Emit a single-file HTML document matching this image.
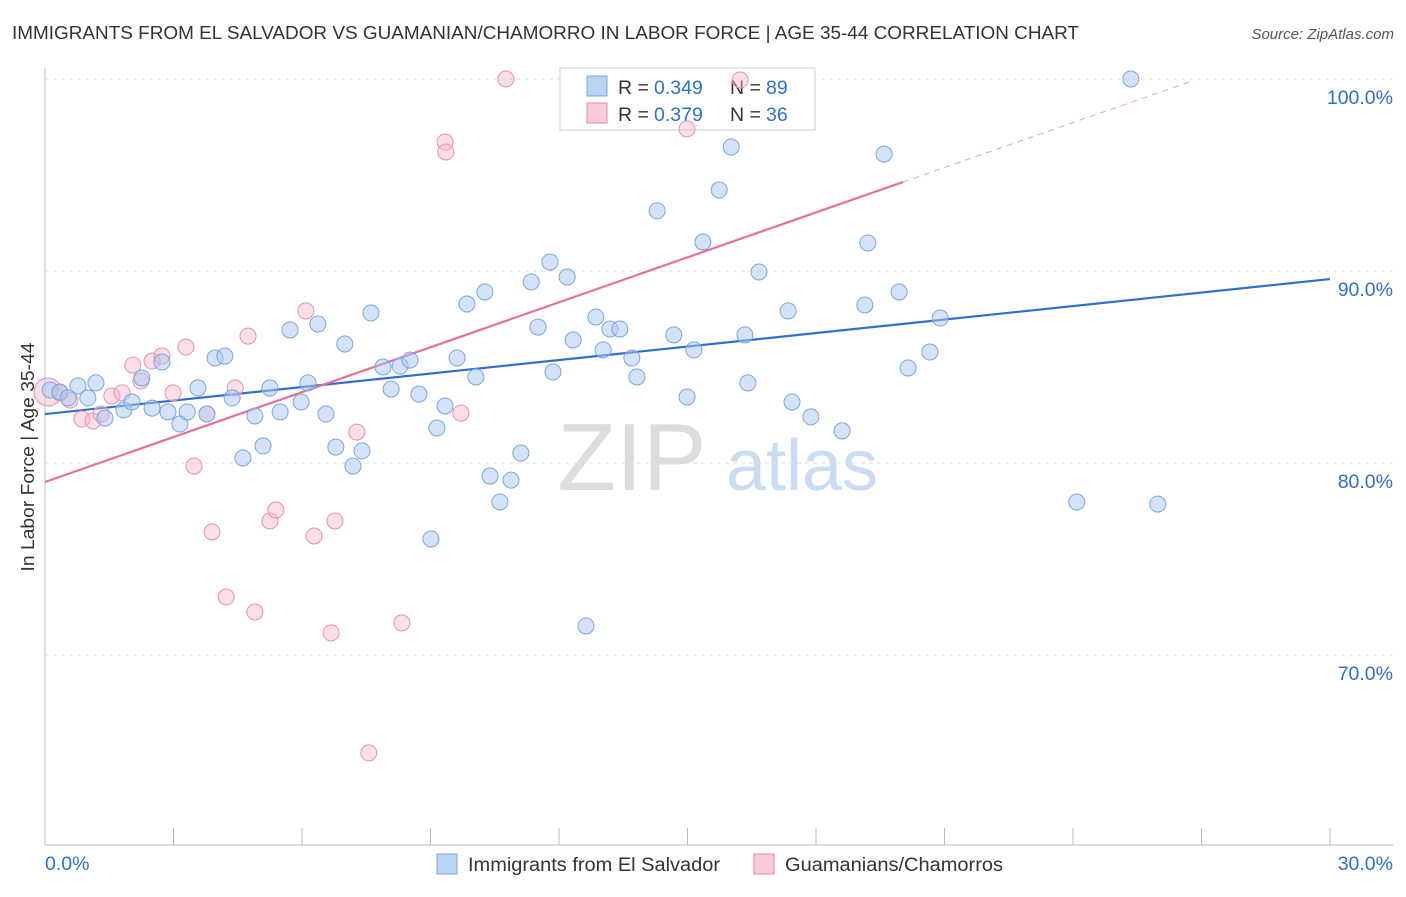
<!DOCTYPE html>
<html><head><meta charset="utf-8"><style>
body{margin:0;background:#fff;font-family:"Liberation Sans",sans-serif;}
svg text{font-family:"Liberation Sans",sans-serif;}
</style></head><body>
<svg id="chart" width="1406" height="892" xmlns="http://www.w3.org/2000/svg">
<text x="12" y="39" font-size="18.5" fill="#333" textLength="1067" lengthAdjust="spacingAndGlyphs">IMMIGRANTS FROM EL SALVADOR VS GUAMANIAN/CHAMORRO IN LABOR FORCE | AGE 35-44 CORRELATION CHART</text>
<text x="1394" y="39" font-size="15" fill="#555" text-anchor="end" font-style="italic">Source: ZipAtlas.com</text>
<g>
<text x="632" y="490" font-size="96" fill="#ddd" text-anchor="middle" font-family="Liberation Serif">ZIP</text>
<text x="802" y="490" font-size="72" fill="#c9dcf2" text-anchor="middle">atlas</text>
</g>
<g id="grid"></g>
<g id="axes"></g>
<g>
<rect x="560" y="68" width="255" height="62" fill="#fff" stroke="#ccc"/>
<rect x="587" y="76" width="20" height="20" fill="#bcd4f4" stroke="#7aa6e0"/>
<rect x="587" y="103" width="20" height="20" fill="#f9cad9" stroke="#e88aa8"/>
<text x="618" y="94" font-size="19.5" fill="#333">R =</text>
<text x="654" y="94" font-size="19.5" fill="#2f6fd0">0.349</text>
<text x="730" y="94" font-size="19.5" fill="#333">N =</text>
<text x="766" y="94" font-size="19.5" fill="#2f6fd0">89</text>
<text x="618" y="121" font-size="19.5" fill="#333">R =</text>
<text x="654" y="121" font-size="19.5" fill="#2f6fd0">0.379</text>
<text x="730" y="121" font-size="19.5" fill="#333">N =</text>
<text x="766" y="121" font-size="19.5" fill="#2f6fd0">36</text>
</g>
<g id="lines"></g>
<g id="pts"></g>
<text transform="translate(34,457) rotate(-90)" font-size="18" fill="#333" text-anchor="middle" textLength="229" lengthAdjust="spacingAndGlyphs">In Labor Force | Age 35-44</text>
<g>
<rect x="437" y="854" width="20" height="20" fill="#bcd4f4" stroke="#7aa6e0"/>
<text x="468" y="871" font-size="19" fill="#333" textLength="252" lengthAdjust="spacingAndGlyphs">Immigrants from El Salvador</text>
<rect x="754" y="854" width="20" height="20" fill="#f9cad9" stroke="#e88aa8"/>
<text x="785" y="871" font-size="19" fill="#333" textLength="218" lengthAdjust="spacingAndGlyphs">Guamanians/Chamorros</text>
</g>
</svg>
<script>
const yTicks=[100,90,80,70];
const yTickLabels=["100.0%","90.0%","80.0%","70.0%"];
const xTicks=[0,3,6,9,12,15,18,21,24,27,30];
const blueX=[0.12,0.35,0.54,0.77,1.00,1.19,1.40,1.84,2.03,2.26,2.50,2.73,2.87,3.15,3.32,3.57,3.78,3.97,4.20,4.37,4.62,4.90,5.09,5.25,5.49,5.72,5.98,6.14,6.37,6.56,6.79,7.00,7.19,7.40,7.61,7.89,8.08,8.29,8.52,8.73,9.01,9.15,9.34,9.62,9.85,10.06,10.27,10.39,10.62,10.88,11.11,11.35,11.51,11.79,11.86,12.19,12.33,12.63,12.86,13.03,13.19,13.42,13.70,13.82,14.29,14.68,14.99,15.15,15.36,15.74,16.02,16.34,16.41,16.67,17.35,17.44,17.88,18.61,19.14,19.21,19.59,19.94,20.15,20.66,20.90,24.09,25.35,25.98];
const blueY=[83.80,83.70,83.39,84.01,83.39,84.17,82.34,82.76,83.18,84.43,82.86,85.26,82.66,82.03,82.66,83.91,82.55,85.47,85.57,83.39,80.26,82.45,80.89,83.91,82.66,86.93,83.18,84.17,87.24,82.55,80.83,86.20,79.84,80.63,87.81,85.00,83.85,85.05,85.36,83.59,76.04,81.82,82.97,85.47,88.28,84.48,88.91,79.32,77.97,79.11,80.52,89.43,87.08,90.47,84.74,89.69,86.41,71.51,87.60,85.89,86.98,86.98,85.47,84.48,93.13,86.67,83.44,85.89,91.51,94.22,96.46,86.67,84.17,89.95,87.92,83.18,82.40,81.67,88.23,91.46,96.09,88.91,84.95,85.78,87.55,77.97,100,77.86];
const pinkX=[0.07,0.35,0.58,0.86,1.12,1.31,1.56,1.80,2.05,2.24,2.50,2.73,2.99,3.29,3.48,3.78,3.90,4.23,4.44,4.74,4.90,5.25,5.39,6.09,6.28,6.68,6.77,7.28,7.56,8.33,9.34,9.36,9.71,10.76,14.99,16.23];
const pinkY=[83.70,83.65,83.28,82.29,82.19,82.55,83.49,83.65,85.10,84.27,85.31,85.57,83.65,86.04,79.84,82.55,76.41,73.02,83.91,86.61,72.24,76.98,77.55,87.92,76.20,71.15,76.98,81.61,64.90,71.67,96.72,96.20,82.60,100,97.40,99.95];
const blueTrend=[82.55,89.58];
const pinkTrend=[79.01,0.780];
const NS="http://www.w3.org/2000/svg";
const X=v=>45+v*42.833;
const Y=v=>79+(100-v)*19.2;
function mk(tag,attrs,parent){const e=document.createElementNS(NS,tag);for(const k in attrs)e.setAttribute(k,attrs[k]);document.getElementById(parent).appendChild(e);return e;}
yTicks.forEach((t,i)=>{
 const g=mk('line',{x1:45,x2:1393,y1:Y(t),y2:Y(t),stroke:'#ddd','stroke-dasharray':'4,4'},'grid');
 
 
 const tx=mk('text',{x:1393,y:Y(t)+25,'font-size':19.5,fill:'#2f6fd0','text-anchor':'end'},'grid');
 tx.textContent=yTickLabels[i];
 
 
});
const ax=mk('line',{x1:45,x2:45,y1:68,y2:845,stroke:'#bbb'},'axes');


const bx=mk('line',{x1:45,x2:1393,y1:845,y2:845,stroke:'#bbb'},'axes');


xTicks.forEach(t=>{
 const l=mk('line',{x1:X(t),x2:X(t),y1:828,y2:845,stroke:'#bbb'},'axes');
 
 
});
const xl0=mk('text',{x:45,y:870,'font-size':19.5,fill:'#2f6fd0'},'axes');xl0.textContent='0.0%';


const xl1=mk('text',{x:1393,y:870,'font-size':19.5,fill:'#2f6fd0','text-anchor':'end'},'axes');xl1.textContent='30.0%';


pinkX.forEach((x,i)=>{
 const c=mk('circle',{cx:X(x),cy:Y(pinkY[i]),r:i===0?14:8,fill:'#f7b8cc','fill-opacity':0.45,stroke:'#e890ad','stroke-width':1},'pts');
 
 
});
blueX.forEach((x,i)=>{
 const c=mk('circle',{cx:X(x),cy:Y(blueY[i]),r:8,fill:'#aac8f0','fill-opacity':0.5,stroke:'#7aa6e0','stroke-width':1},'pts');
 
 
});
const bl=mk('line',{x1:X(0),y1:Y(blueTrend[0]),x2:X(30),y2:Y(blueTrend[1]),stroke:'#2f6fd0','stroke-width':2.2},'lines');


const pl=mk('line',{x1:X(0),y1:Y(pinkTrend[0]),x2:X(20.03),y2:Y(pinkTrend[0]+pinkTrend[1]*20.03),stroke:'#e8709a','stroke-width':2.2},'lines');


const pd=mk('line',{x1:X(20.03),y1:Y(pinkTrend[0]+pinkTrend[1]*20.03),x2:X(26.7),y2:Y(pinkTrend[0]+pinkTrend[1]*26.7),stroke:'#e8a0b8','stroke-width':1,'stroke-dasharray':'6,5'},'lines');


</script>
</body></html>
